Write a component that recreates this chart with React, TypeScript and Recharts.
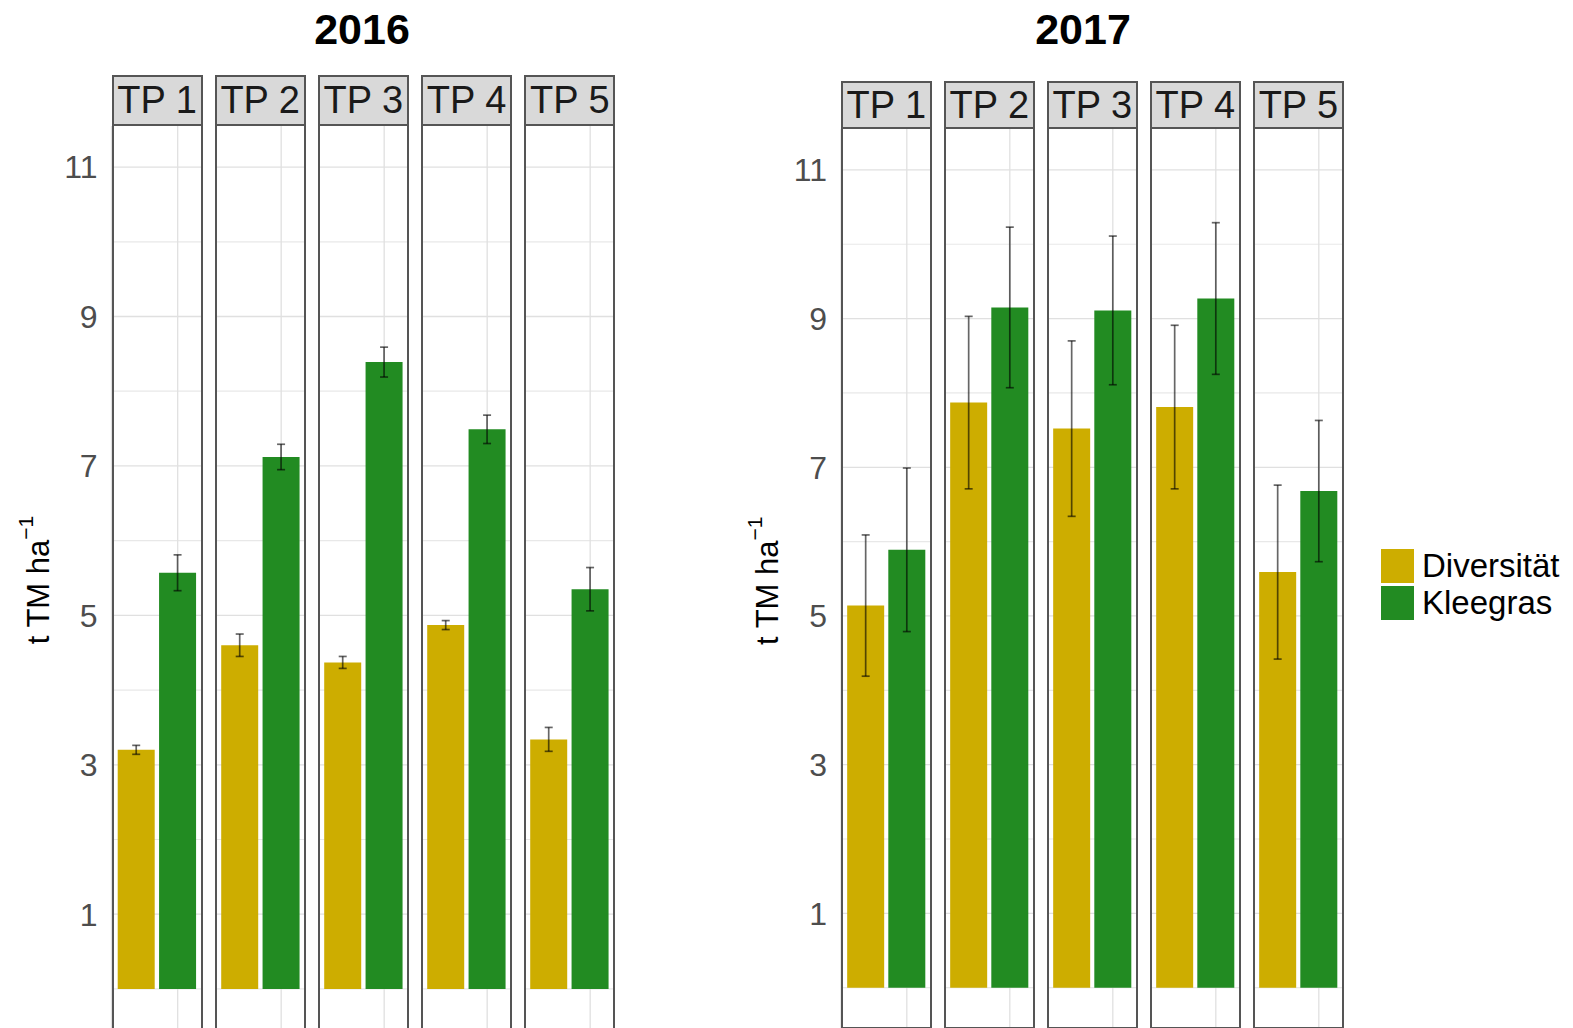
import React from "react";
import { BarChart, Bar, Cell, XAxis, YAxis, CartesianGrid, ErrorBar } from "recharts";

const timepoints = ["TP 1", "TP 2", "TP 3", "TP 4", "TP 5"];
const treatments = ["Diversität", "Kleegras"];
const treatmentColors = ["#CDAD00", "#228B22"];
const yTicks = [1, 3, 5, 7, 9, 11];
const yMinor = [0, 2, 4, 6, 8, 10];

// 2016
const div2016 = [3.2, 4.6, 4.37, 4.87, 3.34];
const divErr2016 = [0.06, 0.15, 0.08, 0.06, 0.16];
const klee2016 = [5.57, 7.12, 8.39, 7.49, 5.35];
const kleeErr2016 = [0.24, 0.17, 0.2, 0.19, 0.29];

// 2017
const div2017 = [5.14, 7.87, 7.52, 7.81, 5.59];
const divErr2017 = [0.95, 1.16, 1.18, 1.1, 1.17];
const klee2017 = [5.89, 9.15, 9.11, 9.27, 6.68];
const kleeErr2017 = [1.1, 1.08, 1.0, 1.02, 0.95];

const FONT = "'Liberation Sans', Arial, Helvetica, sans-serif";
const BORDER = "#555555";

interface PanelLayout {
    title: string;
    titleX: number;
    left: number;
    pitch: number;
    facetW: number;
    stripTop: number;
    stripBottom: number;
    plotBottom: number;
    axisW: number;
    labelX: number;
}

const layout2016: PanelLayout = {
    title: "2016", titleX: 362, left: 111.5, pitch: 103.2, facetW: 91,
    stripTop: 75, stripBottom: 125.7, plotBottom: 1029.7, axisW: 111.5, labelX: 38,
};
const layout2017: PanelLayout = {
    title: "2017", titleX: 1083, left: 841, pitch: 103.05, facetW: 90.5,
    stripTop: 81, stripBottom: 129.3, plotBottom: 1028.9, axisW: 120, labelX: 46,
};

const AxisTitle = ({ viewBox, labelX }: any) => {
    const cx = viewBox.x + labelX;
    const cy = viewBox.y + viewBox.height / 2 + 2;
    return (
        <text
            x={cx}
            y={cy}
            transform={`rotate(-90, ${cx}, ${cy})`}
            textAnchor="middle"
            dominantBaseline="central"
            fill="#000"
            fontSize={31}
            fontFamily={FONT}
        >
            t TM ha<tspan dy={-13} fontSize={21}>−1</tspan>
        </text>
    );
};

function Facet({ lay, idx, values, errors }: { lay: PanelLayout; idx: number; values: number[]; errors: number[] }) {
    const showAxis = idx === 0;
    const x = lay.left + idx * lay.pitch;
    const plotH = lay.plotBottom - lay.stripBottom;
    const axisW = showAxis ? lay.axisW : 0;
    const data = treatments.map((t, i) => ({ name: t, value: values[i], err: errors[i] }));
    const pad = lay.facetW / 22;

    return (
        <>
            <div
                style={{
                    position: "absolute", left: x, top: lay.stripTop, width: lay.facetW,
                    height: lay.stripBottom - lay.stripTop, background: "#d9d9d9",
                    border: `2px solid ${BORDER}`, boxSizing: "border-box",
                    display: "flex", alignItems: "center", justifyContent: "center",
                    fontFamily: FONT, fontSize: 38, color: "#1a1a1a", lineHeight: 1,
                }}
            >
                {timepoints[idx]}
            </div>
            <div style={{ position: "absolute", left: x - axisW, top: lay.stripBottom }}>
                <BarChart
                    width={lay.facetW + axisW}
                    height={plotH}
                    data={data}
                    margin={{ top: 0, right: 0, bottom: 0, left: 0 }}
                    barCategoryGap="5%"
                >
                    <CartesianGrid horizontalValues={yMinor} vertical={false} stroke="#e8e8e8" strokeWidth={1.2} />
                    <CartesianGrid horizontalValues={yTicks} stroke="#e0e0e0" strokeWidth={1.3} />
                    <XAxis dataKey="name" hide padding={{ left: pad, right: pad }} />
                    <YAxis
                        hide={!showAxis}
                        width={axisW}
                        type="number"
                        domain={[-0.55, 11.55]}
                        allowDataOverflow
                        ticks={yTicks}
                        interval={0}
                        tickLine={false}
                        axisLine={false}
                        tickSize={0}
                        tickMargin={14}
                        tick={{ fill: "#4d4d4d", fontSize: 32, fontFamily: FONT }}
                        label={showAxis ? { content: (p: any) => <AxisTitle viewBox={p.viewBox} labelX={lay.labelX} /> } : undefined}
                    />
                    <Bar dataKey="value" isAnimationActive={false}>
                        {data.map((d, i) => (
                            <Cell key={d.name} fill={treatmentColors[i]} />
                        ))}
                        <ErrorBar dataKey="err" width={4} stroke="#000" strokeOpacity={0.6} strokeWidth={1.7} />
                    </Bar>
                </BarChart>
            </div>
            <div
                style={{
                    position: "absolute", left: x, top: lay.stripBottom - 1, width: lay.facetW,
                    height: plotH + 1, border: `2px solid ${BORDER}`, borderTop: "none",
                    boxSizing: "border-box", pointerEvents: "none",
                }}
            />
        </>
    );
}

function Panel({ lay, div, divErr, klee, kleeErr }: { lay: PanelLayout; div: number[]; divErr: number[]; klee: number[]; kleeErr: number[] }) {
    return (
        <>
            <div
                style={{
                    position: "absolute", left: lay.titleX - 100, top: 6, width: 200, textAlign: "center",
                    fontFamily: FONT, fontWeight: "bold", fontSize: 43, lineHeight: "46px", color: "#000",
                }}
            >
                {lay.title}
            </div>
            {timepoints.map((tp, i) => (
                <Facet key={tp} lay={lay} idx={i} values={[div[i], klee[i]]} errors={[divErr[i], kleeErr[i]]} />
            ))}
        </>
    );
}

export default function App() {
    return (
        <div
            style={{
                position: "absolute", left: 0, top: 0, width: 1573, height: 1028,
                overflow: "hidden", background: "#fff",
            }}
        >
            <Panel lay={layout2016} div={div2016} divErr={divErr2016} klee={klee2016} kleeErr={kleeErr2016} />
            <Panel lay={layout2017} div={div2017} divErr={divErr2017} klee={klee2017} kleeErr={kleeErr2017} />
            {treatments.map((t, i) => (
                <div key={t} style={{ position: "absolute", left: 1381, top: 549 + i * 37, height: 34, display: "flex", alignItems: "center" }}>
                    <div style={{ width: 33, height: 34, background: treatmentColors[i] }} />
                    <span style={{ marginLeft: 8, fontFamily: FONT, fontSize: 33, color: "#000" }}>{t}</span>
                </div>
            ))}
        </div>
    );
}
